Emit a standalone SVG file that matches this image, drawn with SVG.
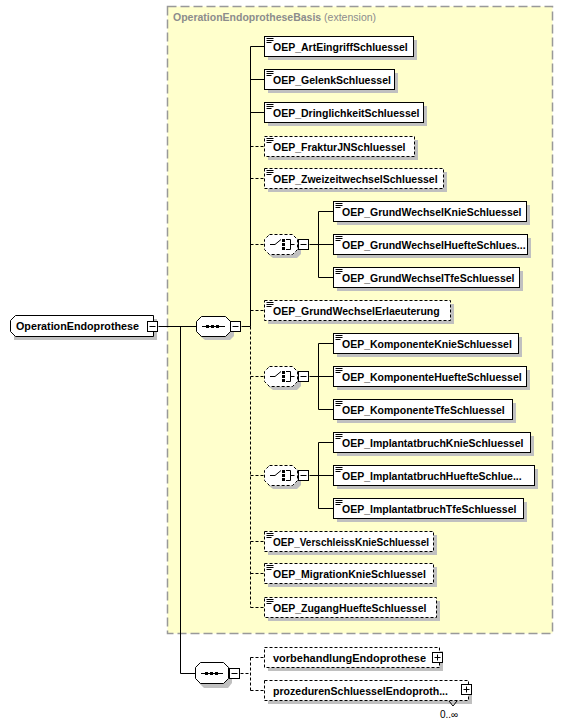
<svg xmlns="http://www.w3.org/2000/svg" width="563" height="724" viewBox="0 0 563 724">
<defs>
<style>
.box{fill:#fff;stroke:#000;stroke-width:1}
.opt{stroke-dasharray:3,2}
.sh{fill:#c0c0c0}
.t{font-family:"Liberation Sans",Arial,sans-serif;font-size:10.5px;font-weight:bold;fill:#000}
.ln{stroke:#000;stroke-width:1;fill:none}
.dl{stroke:#000;stroke-width:1;fill:none;stroke-dasharray:3,2}
.ic{stroke:#000;stroke-width:1}
.pm{fill:#fff;stroke:#000;stroke-width:1}
</style>
<g id="elicon"><path class="ic" d="M2.5 2.5h7M2.5 4.5h7M2.5 6.5h5"/></g>
<g id="minus"><rect class="pm" x="0.5" y="0.5" width="10" height="10"/><path class="ic" d="M2.5 5.5h6"/></g>
<g id="plus"><rect class="pm" x="0.5" y="0.5" width="10" height="10"/><path class="ic" d="M2.5 5.5h6M5.5 2.5v6"/></g>
<g id="choiceicon">
<path class="ic" d="M6 10.5h5l6-5" fill="none"/>
<rect x="18" y="5" width="3" height="3" fill="#000"/>
<rect x="18" y="9" width="3" height="3" fill="#000"/>
<rect x="18" y="13" width="3" height="3" fill="#000"/>
<path class="ic" d="M22 5.5h4.5v10h-4.5M26.5 10.5h4" fill="none"/>
</g>
</defs>
<rect width="563" height="724" fill="#fff"/>

<g id="extension">
<rect x="167.5" y="6.5" width="385" height="627" fill="#ffffcc" stroke="#999" stroke-width="1.5" stroke-dasharray="9,4"/>
<text x="173" y="21" font-family="Liberation Sans,Arial,sans-serif" font-size="10.5" fill="#8c8c8c"><tspan font-weight="bold">OperationEndoprotheseBasis</tspan> (extension)</text>
</g>

<g id="connectors" transform="translate(0.5,0.5)">
<path class="ln" d="M158 326H196M180 326V673H195M241 326H250M250 46V326M250 46H264M250 79H264M250 112H264"/>
<path class="dl" d="M250 326V607M250 146H264M250 178H264M250 244H264M250 310H264M250 376H264M250 475H264M250 541H264M250 573H264M250 607H264"/>
<path class="ln" d="M309 244H318M318 211V277M318 211H333M318 244H333M318 277H333"/>
<path class="ln" d="M309 376H318M318 343V409M318 343H333M318 376H333M318 409H333"/>
<path class="ln" d="M309 475H318M318 442V508M318 442H333M318 475H333M318 508H333"/>
<path class="dl" d="M240 673H250M250 657V690M250 657H264M250 690H264"/>
</g>

<g id="root">
<path class="sh" d="M18 319H157V340H14V323Z"/>
<path class="box" d="M15.5 315.5H153.5V336.5H15.5L10.5 331.5V320.5Z"/>
<text class="t" x="16" y="330" textLength="123" lengthAdjust="spacingAndGlyphs">OperationEndoprothese</text>
<use href="#minus" x="147" y="321"/>
</g>

<g id="seq1">
<path class="sh" d="M205 320H230L234 325V336L230 340H205L200 336V325Z"/>
<path class="box" d="M201.5 316.5H225.5L230.5 321.5V331.5L225.5 336.5H201.5L196.5 331.5V321.5Z"/>
<path class="ic" d="M202 326.5H225"/>
<rect x="206" y="325" width="3" height="3"/><rect x="211" y="325" width="3" height="3"/><rect x="216" y="325" width="3" height="3"/>
<use href="#minus" x="230" y="321"/>
</g>

<g id="seq2">
<path class="sh" d="M204 666H228L232 671V683L228 688H204L199 683V671Z"/>
<path class="box" d="M200.5 662.5H223.5L228.5 667.5V678.5L223.5 683.5H200.5L195.5 678.5V667.5Z"/>
<path class="ic" d="M201 673.5H223"/>
<rect x="205" y="672" width="3" height="3"/><rect x="210" y="672" width="3" height="3"/><rect x="215" y="672" width="3" height="3"/>
<use href="#minus" x="229" y="668"/>
</g>

<g id="n1"><rect class="sh" x="268" y="40" width="149" height="20"/><rect class="box" x="264.5" y="36.5" width="149" height="20"/><use href="#elicon" x="264" y="36"/><text class="t" x="273" y="51">OEP_ArtEingriffSchluessel</text></g>
<g id="n2"><rect class="sh" x="268" y="73" width="130" height="20"/><rect class="box" x="264.5" y="69.5" width="130" height="20"/><use href="#elicon" x="264" y="69"/><text class="t" x="273" y="84">OEP_GelenkSchluessel</text></g>
<g id="n3"><rect class="sh" x="268" y="106" width="159" height="20"/><rect class="box" x="264.5" y="102.5" width="159" height="20"/><use href="#elicon" x="264" y="102"/><text class="t" x="273" y="117">OEP_DringlichkeitSchluessel</text></g>
<g id="n4"><rect class="sh" x="268" y="140" width="150" height="20"/><rect class="box opt" x="264.5" y="136.5" width="150" height="20"/><use href="#elicon" x="264" y="136"/><text class="t" x="273" y="151">OEP_FrakturJNSchluessel</text></g>
<g id="n5"><rect class="sh" x="268" y="172" width="179" height="20"/><rect class="box opt" x="264.5" y="168.5" width="179" height="20"/><use href="#elicon" x="264" y="168"/><text class="t" x="273" y="183">OEP_ZweizeitwechselSchluessel</text></g>

<g id="choice1">
<path class="sh" d="M273 238H297L301 243V254L297 258H273L268 254V243Z"/>
<path class="box opt" d="M269.5 234.5H292.5L297.5 239.5V249.5L292.5 254.5H269.5L264.5 249.5V239.5Z"/>
<use href="#choiceicon" x="264" y="234"/>
<use href="#minus" x="298" y="239"/>
</g>
<g id="c1a"><rect class="sh" x="337" y="205" width="193" height="20"/><rect class="box" x="333.5" y="201.5" width="193" height="20"/><use href="#elicon" x="333" y="201"/><text class="t" x="342" y="216">OEP_GrundWechselKnieSchluessel</text></g>
<g id="c1b"><rect class="sh" x="337" y="238" width="194" height="20"/><rect class="box" x="333.5" y="234.5" width="194" height="20"/><use href="#elicon" x="333" y="234"/><text class="t" x="342" y="249">OEP_GrundWechselHuefteSchlues...</text></g>
<g id="c1c"><rect class="sh" x="337" y="271" width="186" height="20"/><rect class="box" x="333.5" y="267.5" width="186" height="20"/><use href="#elicon" x="333" y="267"/><text class="t" x="342" y="282">OEP_GrundWechselTfeSchluessel</text></g>

<g id="n7"><rect class="sh" x="268" y="304" width="186" height="20"/><rect class="box opt" x="264.5" y="300.5" width="186" height="20"/><use href="#elicon" x="264" y="300"/><text class="t" x="273" y="315">OEP_GrundWechselErlaeuterung</text></g>

<g id="choice2">
<path class="sh" d="M273 370H297L301 375V386L297 390H273L268 386V375Z"/>
<path class="box opt" d="M269.5 366.5H292.5L297.5 371.5V381.5L292.5 386.5H269.5L264.5 381.5V371.5Z"/>
<use href="#choiceicon" x="264" y="366"/>
<use href="#minus" x="298" y="371"/>
</g>
<g id="c2a"><rect class="sh" x="337" y="337" width="185" height="20"/><rect class="box" x="333.5" y="333.5" width="185" height="20"/><use href="#elicon" x="333" y="333"/><text class="t" x="342" y="348">OEP_KomponenteKnieSchluessel</text></g>
<g id="c2b"><rect class="sh" x="337" y="370" width="193" height="20"/><rect class="box" x="333.5" y="366.5" width="193" height="20"/><use href="#elicon" x="333" y="366"/><text class="t" x="342" y="381">OEP_KomponenteHuefteSchluessel</text></g>
<g id="c2c"><rect class="sh" x="337" y="403" width="179" height="20"/><rect class="box" x="333.5" y="399.5" width="179" height="20"/><use href="#elicon" x="333" y="399"/><text class="t" x="342" y="414">OEP_KomponenteTfeSchluessel</text></g>

<g id="choice3">
<path class="sh" d="M273 469H297L301 474V485L297 489H273L268 485V474Z"/>
<path class="box opt" d="M269.5 465.5H292.5L297.5 470.5V480.5L292.5 485.5H269.5L264.5 480.5V470.5Z"/>
<use href="#choiceicon" x="264" y="465"/>
<use href="#minus" x="298" y="470"/>
</g>
<g id="c3a"><rect class="sh" x="337" y="436" width="197" height="20"/><rect class="box" x="333.5" y="432.5" width="197" height="20"/><use href="#elicon" x="333" y="432"/><text class="t" x="342" y="447">OEP_ImplantatbruchKnieSchluessel</text></g>
<g id="c3b"><rect class="sh" x="337" y="469" width="201" height="20"/><rect class="box" x="333.5" y="465.5" width="201" height="20"/><use href="#elicon" x="333" y="465"/><text class="t" x="342" y="480">OEP_ImplantatbruchHuefteSchlue...</text></g>
<g id="c3c"><rect class="sh" x="337" y="502" width="190" height="20"/><rect class="box" x="333.5" y="498.5" width="190" height="20"/><use href="#elicon" x="333" y="498"/><text class="t" x="342" y="513">OEP_ImplantatbruchTfeSchluessel</text></g>

<g id="n10"><rect class="sh" x="268" y="535" width="169" height="20"/><rect class="box opt" x="264.5" y="531.5" width="169" height="20"/><use href="#elicon" x="264" y="531"/><text class="t" x="273" y="546" textLength="156" lengthAdjust="spacingAndGlyphs">OEP_VerschleissKnieSchluessel</text></g>
<g id="n11"><rect class="sh" x="268" y="567" width="169" height="20"/><rect class="box opt" x="264.5" y="563.5" width="169" height="20"/><use href="#elicon" x="264" y="563"/><text class="t" x="273" y="578">OEP_MigrationKnieSchluessel</text></g>
<g id="n12"><rect class="sh" x="268" y="601" width="172" height="20"/><rect class="box opt" x="264.5" y="597.5" width="172" height="20"/><use href="#elicon" x="264" y="597"/><text class="t" x="273" y="612">OEP_ZugangHuefteSchluessel</text></g>

<g id="vorbehandlung"><rect class="sh" x="268" y="651" width="175" height="20"/><rect class="box opt" x="264.5" y="647.5" width="175" height="20"/><text class="t" x="273" y="662" font-weight="normal" textLength="153" lengthAdjust="spacingAndGlyphs">vorbehandlungEndoprothese</text><use href="#plus" x="432" y="652"/></g>
<g id="prozeduren"><rect class="sh" x="268" y="684" width="204" height="20"/><rect class="box opt" x="264.5" y="680.5" width="204" height="20"/><text class="t" x="273" y="695" font-weight="normal" textLength="175" lengthAdjust="spacingAndGlyphs">prozedurenSchluesselEndoproth...</text><use href="#plus" x="461" y="684"/><path class="ln" d="M449 701l4 5l4-5"/><text x="440" y="718" font-family="Liberation Sans,Arial,sans-serif" font-size="10">0..∞</text></g>
</svg>
